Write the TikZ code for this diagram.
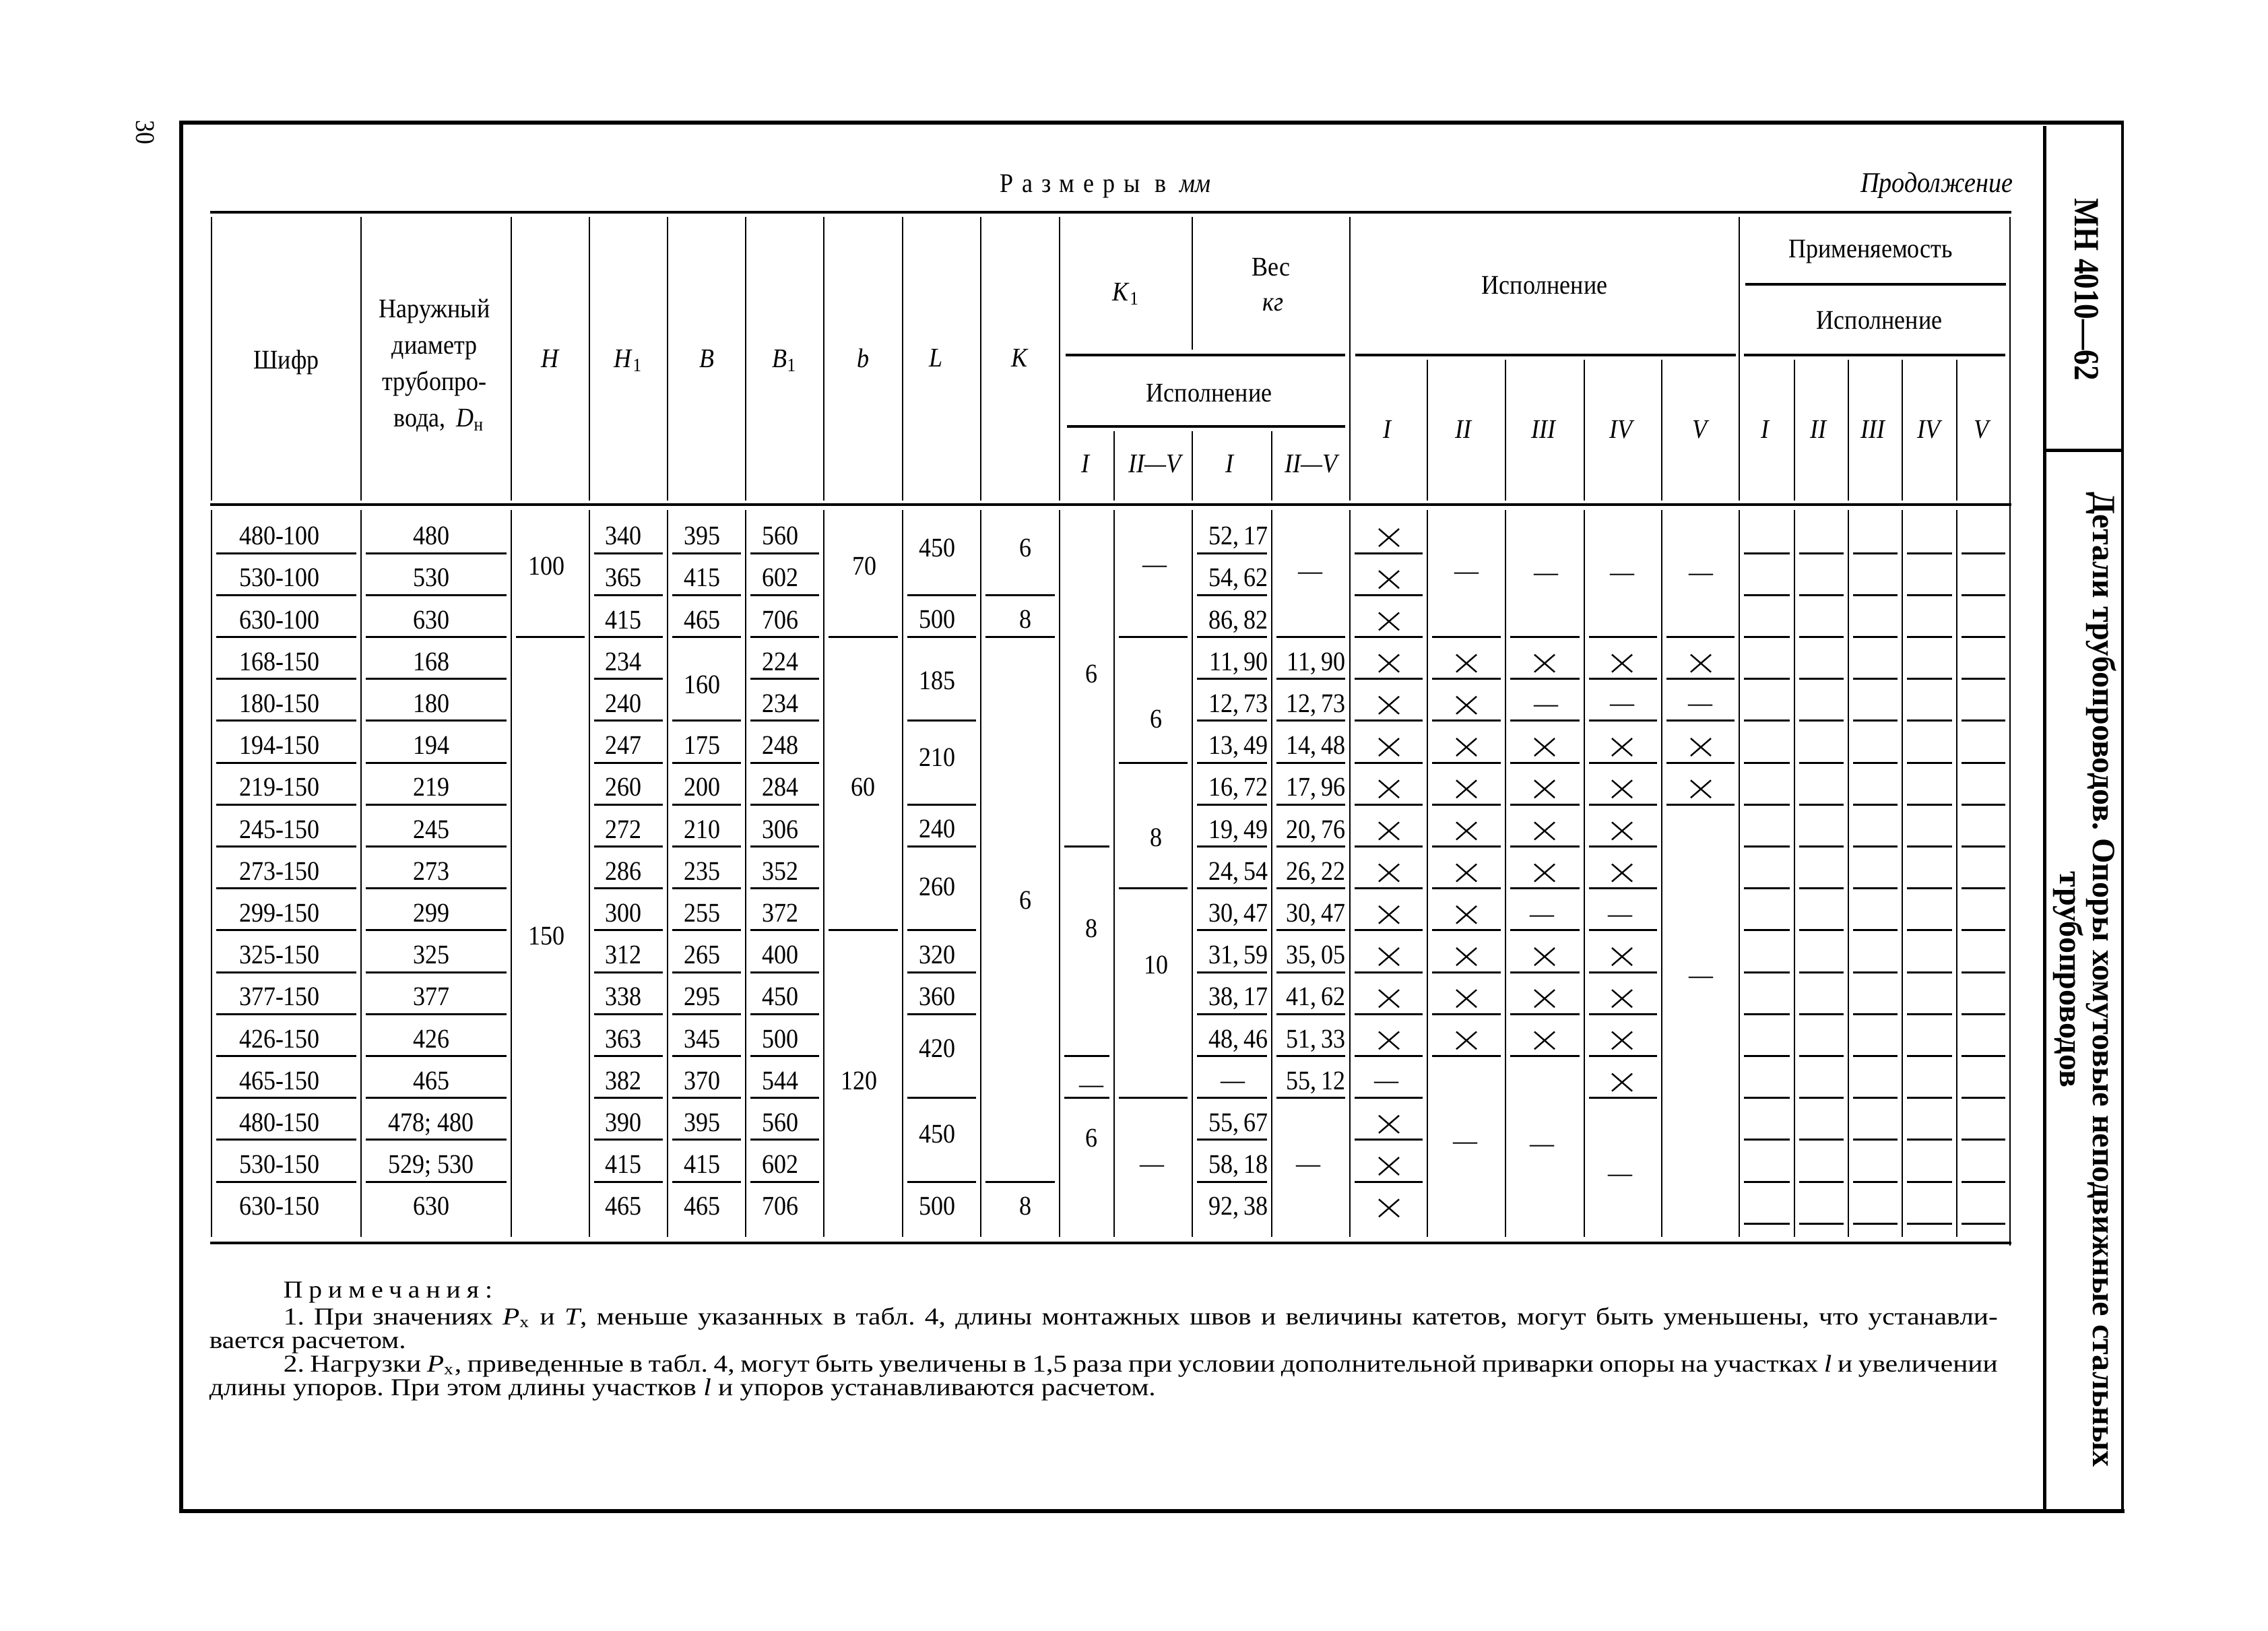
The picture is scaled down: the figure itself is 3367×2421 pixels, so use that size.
\documentclass[tikz,border=0pt]{standalone}
\usepackage{fontspec}
\usepackage{graphicx}
\setmainfont{Liberation Serif}[FakeStretch=0.9]
\newfontfamily\notefont{Liberation Serif}[FakeStretch=1.15]
\newfontfamily\notespaced{Liberation Serif}[FakeStretch=1.1,LetterSpace=25]
\newfontfamily\spacedfont{Liberation Serif}[FakeStretch=0.9,LetterSpace=32]
\newfontfamily\titlefont{Liberation Serif}
\frenchspacing
\newcommand\cm{,\,}
\newcommand\rowline[3]{\draw[sep] ({#1+7},{821+(#3-1)*62.2}) -- ({#2-7},{821+(#3-1)*62.2});}
\newcommand\crossat[2]{\draw[cx] ({#1-15},{#2-13}) -- ({#1+15},{#2+13}) ({#1-15},{#2+13}) -- ({#1+15},{#2-13});}
\begin{document}
\begin{tikzpicture}[x=0.25pt,y=-0.25pt,
  frame/.style={line width=1.5pt},
  tline/.style={line width=1pt},
  vline/.style={line width=0.65pt},
  sep/.style={line width=0.75pt},
  cx/.style={line width=0.6pt},
  ct/.style={font=\fontsize{10}{12}\selectfont, inner sep=0pt, text height=6.8pt, text depth=0pt, anchor=center},
  cte/.style={ct, anchor=east},
  dt/.style={font=\fontsize{10}{12}\selectfont, inner sep=0pt, anchor=base},
  ht/.style={font=\fontsize{10}{12}\selectfont, inner sep=0pt, anchor=base},
  nt/.style={font=\notefont\fontsize{9}{10}\selectfont, inner sep=0pt, anchor=base west}]
\useasboundingbox (0,0) rectangle (3367,2421);

% ---- page frame ----
\draw[frame] (269,179) -- (269,2246);
\draw[frame] (266,182) -- (3151,182);
\draw[frame] (266,2243) -- (3154,2243);
\draw[line width=1pt] (3151,179) -- (3151,2246);
\draw[line width=1.25pt] (3035,187) -- (3035,2243);
\draw[line width=1.25pt] (3035,668) -- (3151,668);

\node[rotate=-90, font=\fontsize{10}{12}\selectfont, inner sep=0pt] (pnum) at (216,196) {30};
\node[rotate=-90, inner sep=0pt] (code) at (3098,430) {\resizebox{67.5pt}{8.75pt}{\titlefont\bfseries МН 4010—62}};
\node[rotate=-90, inner sep=0pt] (title) at (3093,1454) {\resizebox{362pt}{!}{\titlefont\bfseries\fontsize{10}{9.8}\selectfont\begin{tabular}{@{}c@{}}Детали трубопроводов. Опоры хомутовые неподвижные стальных\\трубопроводов\end{tabular}}};

% ---- captions ----
\node[ht, anchor=base west] (dims) at (1484,285) {{\spacedfont Размеры в}\hspace{5pt}\textit{мм}};
\node[ht, anchor=base east, font=\fontsize{10.6}{12}\selectfont] (cont) at (2989,285) {\textit{Продолжение}};

% ---- table rules ----
\draw[tline] (312,315) -- (2986,315);
\draw[tline] (312,749) -- (2986,749);
\draw[tline] (312,1845) -- (2986,1845);
\draw[tline] (1582,527) -- (1997,527);
\draw[tline] (2012,527) -- (2577,527);
\draw[tline] (2589,527) -- (2977,527);
\draw[tline] (2591,422) -- (2978,422);
\draw[tline] (1584,633) -- (1997,633);

\foreach \x in {314,536,759,875,991,1107,1223,1340,1456,1573,2004,2582}
  \draw[vline] (\x,322) -- (\x,743);
\draw[vline] (1770,322) -- (1770,519);
\foreach \x in {1654,1770,1888} \draw[vline] (\x,640) -- (\x,743);
\foreach \x in {2119,2235,2352,2467,2664,2744,2824,2905} \draw[vline] (\x,534) -- (\x,743);
\draw[vline] (2984,322) -- (2984,1849);
\foreach \x in {314,536,759,875,991,1107,1223,1340,1456,1573,1654,1770,1888,2004,2119,2235,2352,2467,2582,2664,2744,2824,2905}
  \draw[vline] (\x,757) -- (\x,1836);

% ---- header texts ----
\node[ht] (hshifr) at (425,547) {Шифр};
\node[ht] (hd1) at (645,471) {Наружный};
\node[ht] (hd2) at (645,525) {диаметр};
\node[ht] (hd3) at (645,579) {трубопро-};
\node[ht] (hd4) at (652,633) {вода,\, \textit{D}\textsubscript{н}};
\node[ht] (hH) at (817,545) {\textit{H}};
\node[ht] (hH1) at (933,545) {\textit{H}\textsubscript{1}};
\node[ht] (hB) at (1049,545) {\textit{B}};
\node[ht] (hB1) at (1165,545) {\textit{B}\textsubscript{1}};
\node[ht] (hb) at (1281,545) {\textit{b}};
\node[ht] (hL) at (1390,544) {\textit{L}};
\node[ht] (hK) at (1514,544) {\textit{K}};
\node[ht] (hK1) at (1672,446) {\textit{K}\textsubscript{1}};
\node[ht] (hves) at (1887,409) {Вес};
\node[ht] (hkg) at (1890,461) {\textit{кг}};
\node[ht] (hisp1) at (2293,436) {Исполнение};
\node[ht] (hisp2) at (1795,596) {Исполнение};
\node[ht] (hk1a) at (1612,701) {\textit{I}};
\node[ht] (hk1b) at (1716,701) {\textit{II—V}};
\node[ht] (hva) at (1826,701) {\textit{I}};
\node[ht] (hvb) at (1948,701) {\textit{II—V}};
\foreach \x/\t [count=\i] in {2060/I,2173/II,2292/III,2408/IV,2525/V}
  \node[ht] (hi\i) at (\x,650) {\textit{\t}};
\node[ht] (hprim) at (2777,382) {Применяемость};
\node[ht] (hisp3) at (2790,488) {Исполнение};
\foreach \x/\t [count=\i] in {2621/I,2700/II,2781/III,2865/IV,2943/V}
  \node[ht] (hp\i) at (\x,650) {\textit{\t}};

% ---- row separators ----
\foreach \k in {1,...,16} {\rowline{314}{536}{\k} \rowline{536}{759}{\k} \rowline{875}{991}{\k} \rowline{1107}{1223}{\k} \rowline{1770}{1888}{\k} \rowline{2004}{2119}{\k}}
\rowline{759}{875}{3}
\foreach \k in {1,2,3,5,6,7,8,9,10,11,12,13,14,15,16} {\rowline{991}{1107}{\k}}
\rowline{1223}{1340}{3} \rowline{1223}{1340}{10}
\foreach \k in {2,3,5,7,8,10,11,12,14,16} {\rowline{1340}{1456}{\k}}
\foreach \k in {2,3,16} {\rowline{1456}{1573}{\k}}
\foreach \k in {8,13,14} {\rowline{1573}{1654}{\k}}
\foreach \k in {3,6,9,14} {\rowline{1654}{1770}{\k}}
\foreach \k in {3,...,14} {\rowline{1888}{2004}{\k}}
\foreach \k in {3,...,13} {\rowline{2119}{2235}{\k} \rowline{2235}{2352}{\k}}
\foreach \k in {3,...,14} {\rowline{2352}{2467}{\k}}
\foreach \k in {3,...,7} {\rowline{2467}{2582}{\k}}
\foreach \k in {1,...,17} {\rowline{2582}{2664}{\k} \rowline{2664}{2744}{\k} \rowline{2744}{2824}{\k} \rowline{2824}{2905}{\k} \rowline{2905}{2984}{\k}}

% ---- body texts ----
\foreach \t [count=\k] in {480-100,530-100,630-100,168-150,180-150,194-150,219-150,245-150,273-150,299-150,325-150,377-150,426-150,465-150,480-150,530-150,630-150}
  \node[ct] (sh\k) at (415,{795+(\k-1)*62.2}) {\t};
\foreach \t [count=\k] in {480,530,630,168,180,194,219,245,273,299,325,377,426,465,478; 480,529; 530,630}
  \node[ct] (dn\k) at (640,{795+(\k-1)*62.2}) {\t};
\foreach \t [count=\k] in {340,365,415,234,240,247,260,272,286,300,312,338,363,382,390,415,465}
  \node[ct] (ha\k) at (925,{795+(\k-1)*62.2}) {\t};
\foreach \k/\t in {1/395,2/415,3/465,6/175,7/200,8/210,9/235,10/255,11/265,12/295,13/345,14/370,15/395,16/415,17/465}
  \node[ct] (bb\k) at (1042,{795+(\k-1)*62.2}) {\t};
\foreach \t [count=\k] in {560,602,706,224,234,248,284,306,352,372,400,450,500,544,560,602,706}
  \node[ct] (ba\k) at (1158,{795+(\k-1)*62.2}) {\t};
\foreach \k/\t in {1/52\cm 17,2/54\cm 62,3/86\cm 82,4/11\cm 90,5/12\cm 73,6/13\cm 49,7/16\cm 72,8/19\cm 49,9/24\cm 54,10/30\cm 47,11/31\cm 59,12/38\cm 17,13/48\cm 46,15/55\cm 67,16/58\cm 18,17/92\cm 38}
  \node[cte] (va\k) at (1883,{795+(\k-1)*62.2}) {\t};
\foreach \k/\t in {4/11\cm 90,5/12\cm 73,6/14\cm 48,7/17\cm 96,8/20\cm 76,9/26\cm 22,10/30\cm 47,11/35\cm 05,12/41\cm 62,13/51\cm 33,14/55\cm 12}
  \node[cte] (vb\k) at (1998,{795+(\k-1)*62.2}) {\t};

% merged cells
\node[ct] (hh1) at (811,840) {100};
\node[ct] (hh2) at (811,1389) {150};
\node[ct] (bm) at (1042,1016) {160};
\node[ct] (sb1) at (1283,840) {70};
\node[ct] (sb2) at (1281,1168) {60};
\node[ct] (sb3) at (1275,1604) {120};
\foreach \y/\t [count=\i] in {813/450,919/500,1010/185,1124/210,1230/240,1316/260,1417/320,1479/360,1556/420,1683/450,1790/500}
  \node[ct] (ll\i) at (1391,\y) {\t};
\foreach \y/\t [count=\i] in {813/6,919/8,1336/6,1790/8}
  \node[ct] (kk\i) at (1522,\y) {\t};
\foreach \y/\t [count=\i] in {1000/6,1378/8,1689/6}
  \node[ct] (ka\i) at (1620,\y) {\t};
\foreach \y/\t [count=\i] in {1067/6,1243/8,1432/10}
  \node[ct] (kb\i) at (1716,\y) {\t};

% dashes
\foreach \x/\y [count=\i] in {1620/1612,1714/840,1710/1730,1830/1606,1945/850,1942/1730,2058/1606,2177/850,2175/1696,2295/852,2295/1047,2289/1359,2289/1700,2408/852,2408/1046,2405/1359,2405/1744,2525/852,2524/1046,2525/1450}
  \node[dt] (ds\i) at (\x,{\y+10}) {—};

% crosses
\foreach \k in {1,...,13,15,16,17} {\crossat{2062}{795+(\k-1)*62.2+3}}
\foreach \k in {4,...,13} {\crossat{2177}{795+(\k-1)*62.2+3}}
\foreach \k in {4,6,7,8,9,11,12,13} {\crossat{2293}{795+(\k-1)*62.2+3}}
\foreach \k in {4,6,7,8,9,11,12,13,14} {\crossat{2408}{795+(\k-1)*62.2+3}}
\foreach \k in {4,6,7} {\crossat{2525}{795+(\k-1)*62.2+3}}

% ---- notes ----
\node[nt, font=\notespaced\fontsize{9}{10}\selectfont] (nhead) at (420,1926) {Примечания:};
\node[nt] (n1) at (420,1966) {\makebox[636.25pt][s]{1. При значениях \textit{P}\textsubscript{х} и \textit{T}, меньше указанных в табл. 4, длины монтажных швов и величины катетов, могут быть уменьшены, что устанавли-}};
\node[nt] (n2) at (310,2001) {вается расчетом.};
\node[nt] (n3) at (420,2036) {\makebox[636.25pt][s]{2. Нагрузки \textit{P}\textsubscript{х}, приведенные в табл. 4, могут быть увеличены в 1,5 раза при условии дополнительной приварки опоры на участках \textit{l} и увеличении}};
\node[nt] (n4) at (310,2071) {длины упоров. При этом длины участков \textit{l} и упоров устанавливаются расчетом.};
\end{tikzpicture}
\end{document}
